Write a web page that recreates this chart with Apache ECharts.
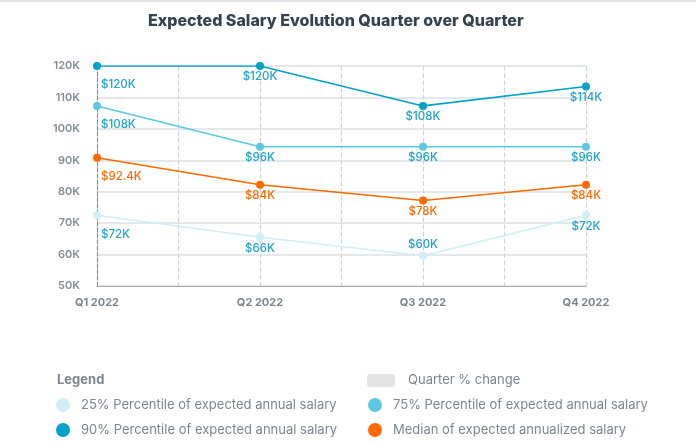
<!DOCTYPE html>
<html>
<head>
<meta charset="utf-8">
<script src="https://cdn.jsdelivr.net/npm/echarts@6/dist/echarts.min.js"></script>
<style>
html,body{margin:0;padding:0;background:#fff;}
#chart{width:696px;height:442px;border-top:2px solid #e2e2e2;box-sizing:border-box;}
</style>
</head>
<body>
<div id="chart"></div>
<script>
var categories = ['Q1 2022', 'Q2 2022', 'Q3 2022', 'Q4 2022'];
var gridSteps = ['', '', '', '', '', '', ''];
var p25 = [72.5, 65.5, 59.6, 72.5];
var p75 = [107.3, 94.3, 94.3, 94.3];
var p90 = [120, 120, 107.3, 113.5];
var median = [90.8, 82.2, 77.2, 82.2];
var p25Labels = ['$72K', '$66K', '$60K', '$72K'];
var p75Labels = ['$108K', '$96K', '$96K', '$96K'];
var p90Labels = ['$120K', '$120K', '$108K', '$114K'];
var medianLabels = ['$92.4K', '$84K', '$78K', '$84K'];
var names = {
  p25: '25% Percentile of expected annual salary',
  p75: '75% Percentile of expected annual salary',
  p90: '90% Percentile of expected annual salary',
  med: 'Median of expected annualized salary',
  chg: 'Quarter % change'
};
var colors = {p25:'#d0eef5', p75:'#5cc9e0', p90:'#03a0c7', med:'#ff6a00', chg:'#e4e4e4'};
var FONT = 'Inter, "Noto Sans", sans-serif';

function mkData(vals, labels, labelColor, aboveIdx) {
  return vals.map(function (v, i) {
    var item = {value: v, label: {formatter: labels[i], color: labelColor}};
    if (i === 0) { item.label.align = 'left'; item.label.offset = [4, 8]; }
    if (aboveIdx === i) { item.label.position = 'top'; }
    return item;
  });
}
function mkSeries(name, vals, labels, color, labelColor, aboveIdx, z) {
  return {
    name: name, type: 'line', data: mkData(vals, labels, labelColor, aboveIdx),
    symbol: 'circle', symbolSize: 8, z: z,
    lineStyle: {color: color, width: 1.6},
    itemStyle: {color: color},
    label: {show: true, position: 'bottom', distance: 1, fontFamily: FONT, fontSize: 11.5, fontWeight: 500},
    emphasis: {disabled: true}, animation: false
  };
}
var legendText = {color: '#7d8690', fontSize: 13, fontFamily: FONT, padding: [0, 0, 0, 6]};
var chart = echarts.init(document.getElementById('chart'));
chart.setOption({
  animation: false,
  title: [
    {text: 'Expected Salary Evolution Quarter over Quarter', left: 143, top: 6,
     textStyle: {fontFamily: FONT, fontSize: 16, fontWeight: 800, color: '#34434f'}},
    {text: 'Legend', left: 57, top: 372, padding: 0,
     textStyle: {fontFamily: FONT, fontSize: 13, fontWeight: 'bold', color: '#7d8690'}}
  ],
  grid: {left: 97, right: 110, top: 64, bottom: 156},
  xAxis: [
    {type: 'category', data: categories, boundaryGap: false,
     axisLine: {lineStyle: {color: '#a3aab1', width: 1}}, axisTick: {show: false},
     axisLabel: {color: '#7d8690', fontFamily: FONT, fontSize: 11, fontWeight: 'bold', margin: 11},
     splitLine: {show: false}},
    {type: 'category', data: gridSteps, boundaryGap: false, position: 'bottom',
     axisLine: {show: false}, axisTick: {show: false}, axisLabel: {show: false},
     splitLine: {show: true, lineStyle: {type: 'dashed', color: '#cfd4d9', width: 1.2}}}
  ],
  yAxis: {type: 'value', min: 50, max: 120, interval: 10,
    axisLine: {show: true, lineStyle: {type: 'dashed', color: '#7f8b97', width: 1}},
    axisTick: {show: false},
    axisLabel: {formatter: '{value}K', color: '#848d96', fontFamily: FONT, fontSize: 11, fontWeight: 600, margin: 17},
    splitLine: {lineStyle: {color: '#dde1e5', width: 1.5}}},
  legend: [
    {orient: 'vertical', left: 56, top: 396, padding: 0, itemWidth: 14, itemHeight: 14, itemGap: 11,
     icon: 'circle', selectedMode: false, data: [names.p25, names.p90], textStyle: legendText},
    {orient: 'vertical', left: 368, top: 396, padding: 0, itemWidth: 14, itemHeight: 14, itemGap: 11,
     icon: 'circle', selectedMode: false, data: [names.p75, names.med], textStyle: legendText},
    {orient: 'vertical', left: 367, top: 372, padding: 0, itemWidth: 28, itemHeight: 13,
     icon: 'roundRect', selectedMode: false, data: [names.chg],
     textStyle: {color: '#7d8690', fontSize: 13, fontFamily: FONT, padding: [0, 0, 0, 8]}}
  ],
  series: [
    mkSeries(names.p25, p25, p25Labels, colors.p25, '#1fa5cb', 2, 2),
    mkSeries(names.med, median, medianLabels, colors.med, '#ff6a00', -1, 3),
    mkSeries(names.p75, p75, p75Labels, colors.p75, '#1fa5cb', -1, 4),
    mkSeries(names.p90, p90, p90Labels, colors.p90, '#1fa5cb', -1, 5),
    {name: names.chg, type: 'line', data: [], itemStyle: {color: colors.chg}, lineStyle: {color: colors.chg}}
  ]
});
</script>
</body>
</html>
